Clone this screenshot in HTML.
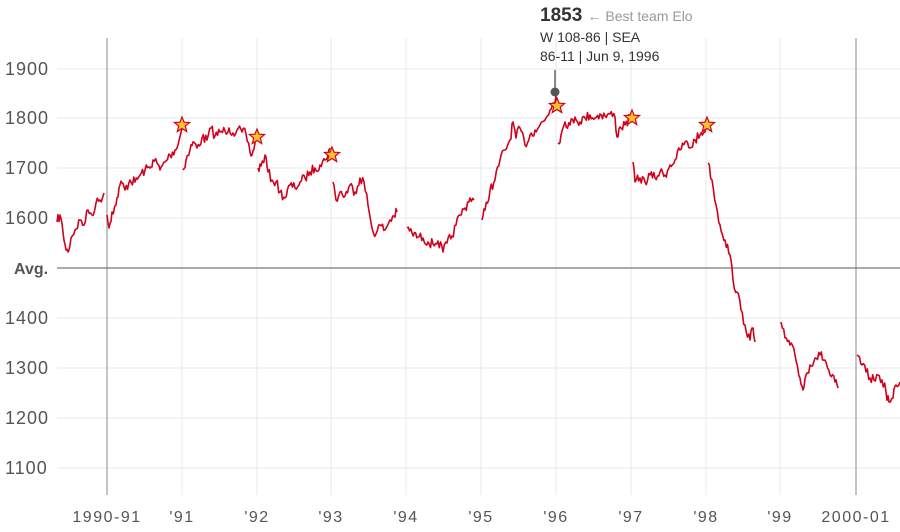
<!DOCTYPE html>
<html><head><meta charset="utf-8"><style>
body{margin:0;background:#fff;width:900px;height:527px;overflow:hidden}
text{font-family:"Liberation Sans",sans-serif}
</style></head><body>
<svg id="s" width="900" height="527" xmlns="http://www.w3.org/2000/svg">
<g stroke="#e8e8e8" stroke-width="1">
<line x1="57" x2="900" y1="69" y2="69"/><line x1="57" x2="900" y1="118" y2="118"/>
<line x1="57" x2="900" y1="168" y2="168"/><line x1="57" x2="900" y1="218" y2="218"/>
<line x1="57" x2="900" y1="318" y2="318"/><line x1="57" x2="900" y1="368" y2="368"/>
<line x1="57" x2="900" y1="418" y2="418"/><line x1="57" x2="900" y1="468" y2="468"/>
<line x1="182" x2="182" y1="38" y2="495"/><line x1="257" x2="257" y1="38" y2="495"/>
<line x1="331" x2="331" y1="38" y2="495"/><line x1="406" x2="406" y1="38" y2="495"/>
<line x1="481" x2="481" y1="38" y2="495"/><line x1="556" x2="556" y1="38" y2="495"/>
<line x1="631" x2="631" y1="38" y2="495"/><line x1="706" x2="706" y1="38" y2="495"/>
<line x1="780" x2="780" y1="38" y2="495"/>
</g>
<line x1="107" x2="107" y1="38" y2="495" stroke="#b0b0b0" stroke-width="1.5"/>
<line x1="856" x2="856" y1="38" y2="495" stroke="#b0b0b0" stroke-width="1.5"/>
<line x1="57" x2="900" y1="268" y2="268" stroke="#777" stroke-width="1.3"/>
<g font-size="18" fill="#555" letter-spacing="1">
<text x="5" y="75">1900</text><text x="5" y="124">1800</text><text x="5" y="174">1700</text>
<text x="5" y="224">1600</text><text x="5" y="324">1400</text><text x="5" y="374">1300</text>
<text x="5" y="424">1200</text><text x="5" y="474">1100</text>
</g>
<text x="14" y="274" font-size="16" font-weight="bold" fill="#555">Avg.</text>
<g font-size="16" fill="#555" letter-spacing="1.5" text-anchor="middle">
<text x="107" y="522">1990-91</text><text x="182" y="522">'91</text><text x="257" y="522">'92</text>
<text x="331" y="522">'93</text><text x="406" y="522">'94</text><text x="481" y="522">'95</text>
<text x="556" y="522">'96</text><text x="631" y="522">'97</text><text x="706" y="522">'98</text>
<text x="780" y="522">'99</text><text x="856" y="522">2000-01</text>
</g>
<g id="lines" fill="none" stroke="#d0021b" stroke-width="1.6" stroke-linejoin="round"></g>
<line x1="555" x2="555" y1="70" y2="88" stroke="#666" stroke-width="1.5"/>
<circle cx="555" cy="92" r="4.5" fill="#555"/>
<text x="540" y="21" font-size="19" font-weight="bold" fill="#333">1853 <tspan font-size="14" font-weight="normal" fill="#999">← Best team Elo</tspan></text>
<text x="540" y="42" font-size="14" fill="#333">W 108-86 | SEA</text>
<text x="540" y="61" font-size="14" fill="#333">86-11 | Jun 9, 1996</text>
<g id="stars"></g>
</svg>
<script>
var segs=[
[[57,222],[60,215],[63,232],[66,250],[68,252],[71,238],[75,230],[80,220],[84,225],[88,210],[92,215],[96,203],[100,200],[104,193]],
[[107,215],[109,228],[112,212],[116,205],[119,188],[122,183],[125,190],[130,180],[135,182],[140,175],[145,170],[150,168],[153,160],[157,163],[160,170],[165,162],[170,155],[175,150],[178,145],[182,128]],
[[183,170],[186,160],[190,150],[193,142],[197,148],[202,138],[207,140],[211,128],[215,136],[220,132],[225,131],[229,128],[233,133],[237,130],[242,132],[246,134],[250,152],[252,155],[255,143],[257,136]],
[[258,168],[261,166],[265,155],[268,172],[272,180],[276,182],[280,192],[285,198],[290,185],[295,188],[300,182],[305,178],[310,172],[315,168],[320,165],[325,160],[330,148]],
[[333,182],[336,200],[340,192],[345,196],[350,185],[355,192],[360,178],[364,182],[368,205],[372,228],[376,234],[380,225],[385,230],[390,220],[394,216],[397,212]],
[[407,228],[412,233],[418,237],[423,238],[428,242],[433,244],[438,241],[443,252],[447,243],[452,236],[456,225],[460,215],[465,208],[470,198],[474,200]],
[[482,220],[485,210],[490,190],[495,180],[500,160],[505,150],[510,140],[513,122],[516,138],[520,128],[525,145],[530,135],[535,130],[540,125],[545,120],[550,110],[553,103],[556,96]],
[[558,143],[561,135],[565,122],[570,125],[575,117],[580,122],[585,118],[590,115],[595,118],[600,114],[605,116],[610,114],[615,117],[617,137],[620,127],[625,125],[630,118]],
[[633,162],[635,182],[640,178],[645,182],[650,175],[655,178],[660,172],[665,175],[670,165],[675,160],[680,150],[685,142],[690,148],[695,140],[700,135],[706,128]],
[[708,163],[712,180],[716,205],[720,225],[725,240],[730,255],[733,280],[737,292],[741,310],[745,325],[750,340],[752,328],[755,342]],
[[781,322],[785,338],[790,345],[795,355],[800,378],[803,390],[806,375],[810,365],[815,358],[820,355],[825,360],[830,375],[835,382],[838,388]],
[[857,355],[862,365],[866,372],[870,378],[874,380],[878,375],[882,380],[886,392],[889,402],[893,398],[896,385],[900,382]]];
var seed=7;function rnd(){seed=(seed*16807)%2147483647;return seed/2147483647-0.5;}
var g=document.getElementById('lines'),NS='http://www.w3.org/2000/svg';
segs.forEach(function(s){var pts=[];for(var i=0;i<s.length-1;i++){var a=s[i],b=s[i+1],n=Math.max(1,Math.round((b[0]-a[0])/1.2));for(var k=0;k<n;k++){var t=k/n;var y=a[1]+(b[1]-a[1])*t;if(k>0)y+=rnd()*10;pts.push((a[0]+(b[0]-a[0])*t).toFixed(1)+','+y.toFixed(1));}}
var l=s[s.length-1];pts.push(l[0]+','+l[1]);var p=document.createElementNS(NS,'polyline');p.setAttribute('points',pts.join(' '));g.appendChild(p);});
var st=[[182,125],[257,137],[332,155],[557,106],[632,118],[707,125]];
var sg=document.getElementById('stars');
st.forEach(function(c){var pts=[];for(var i=0;i<10;i++){var r=i%2?3.5:8,a=-Math.PI/2+i*Math.PI/5;pts.push((c[0]+r*Math.cos(a)).toFixed(1)+','+(c[1]+r*Math.sin(a)).toFixed(1));}
var p=document.createElementNS(NS,'polygon');p.setAttribute('points',pts.join(' '));p.setAttribute('fill','#fbc02d');p.setAttribute('stroke','#d0021b');p.setAttribute('stroke-width','1.2');sg.appendChild(p);});
</script>
</body></html>
